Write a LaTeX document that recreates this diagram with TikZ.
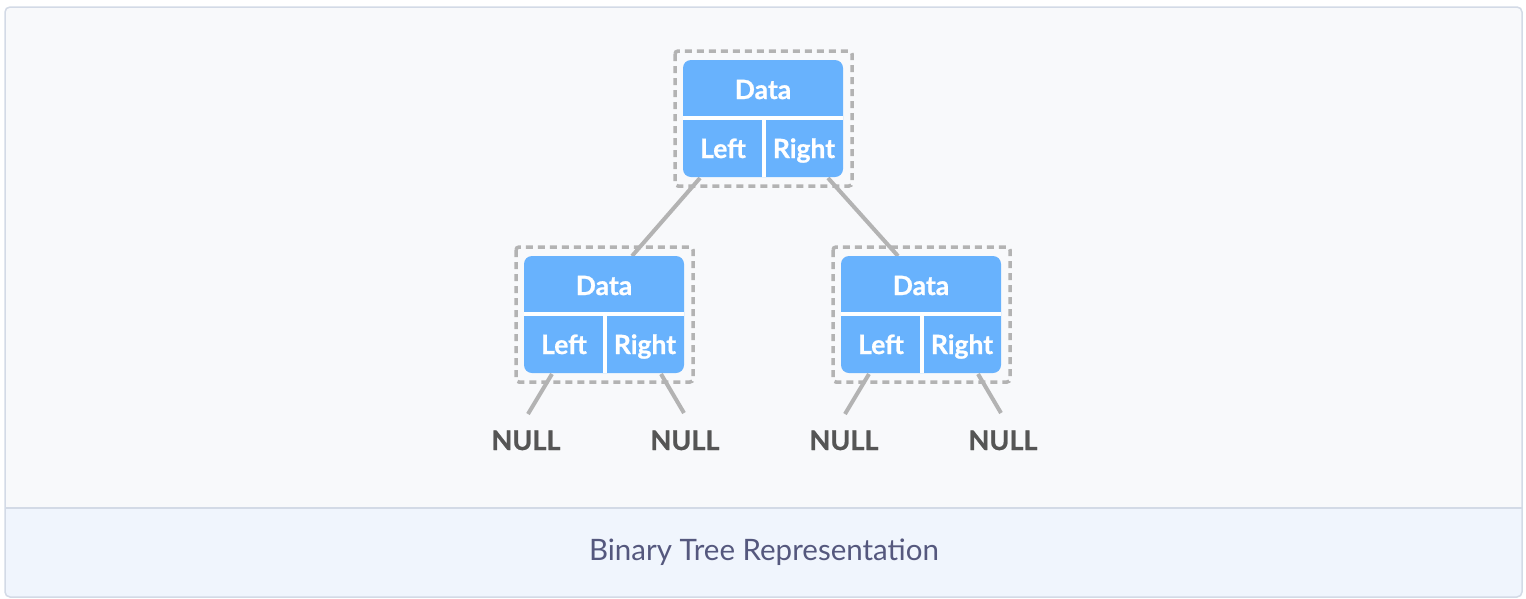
\documentclass[tikz,border=0pt]{standalone}
\usepackage{fontspec}
\setmainfont{Lato}
\newfontfamily\heavyfont{Lato}[BoldFeatures={FakeBold=0.8}]
\definecolor{nodeblue}{HTML}{68B2FD}
\definecolor{edgegray}{HTML}{B3B3B3}
\definecolor{nullgray}{HTML}{555555}
\definecolor{framecol}{HTML}{D3DAE6}
\definecolor{topfill}{HTML}{F8F9FB}
\definecolor{capfill}{HTML}{F0F5FD}
\definecolor{captext}{HTML}{55587E}
\tikzset{
  x=1pt, y=-1pt,
  blueboxstyle/.style={fill=nodeblue, rounded corners=8pt},
  divider/.style={white, line width=4pt},
  dashframe/.style={draw=edgegray, line width=3.5pt, dash pattern=on 7pt off 5pt, rounded corners=3pt},
  edge/.style={draw=edgegray, line width=4pt},
  celltext/.style={text=white, font=\fontsize{26.5}{30}\heavyfont\bfseries, inner sep=0pt, anchor=base},
  nulltext/.style={text=nullgray, font=\fontsize{27}{30}\heavyfont\bfseries, inner sep=0pt, anchor=base},
}
% \mytreenode{name}{center x}{top y}
\newcommand{\mytreenode}[3]{%
  \draw[dashframe] ({#2-88},{#3-9}) rectangle ({#2+89},{#3+126});
  \fill[blueboxstyle] ({#2-80},{#3}) rectangle ({#2+80},{#3+117});
  \draw[divider] ({#2-80},{#3+58}) -- ({#2+80},{#3+58});
  \draw[divider] ({#2+1},{#3+58}) -- ({#2+1},{#3+117});
  \node[celltext] (#1data) at ({#2},{#3+39}) {Data};
  \node[celltext] (#1left) at ({#2-40},{#3+98}) {Left};
  \node[celltext] (#1right) at ({#2+41},{#3+98}) {Right};
  \coordinate (#1top) at ({#2},{#3});
}
\begin{document}
\begin{tikzpicture}
\useasboundingbox (0,0) rectangle (1526,598);
% frame
\fill[topfill, rounded corners=5pt] (5,7) rectangle (1522,597);
\fill[capfill, rounded corners=5pt] (5,508) rectangle (1522,597);
\fill[capfill] (5,508) rectangle (1522,520);
\draw[framecol, line width=1.5pt] (5,508) -- (1522,508);
\draw[framecol, line width=1.5pt, rounded corners=5pt] (5,7) rectangle (1522,597);
\node[text=captext, font=\fontsize{29.5}{32}\selectfont, inner sep=0pt] (caption) at (764,552) {Binary Tree Representation};
% edges (drawn first, under boxes)
\coordinate (e1a) at (700,178);
\coordinate (e1b) at (632,256);
\coordinate (e2a) at (828,178);
\coordinate (e2b) at (898,256);
\draw[edge] (e1a) -- (e1b);
\draw[edge] (e2a) -- (e2b);
% nodes
\mytreenode{root}{763}{60}
\mytreenode{lc}{604}{256}
\mytreenode{rc}{921}{256}
% NULL labels
\node[nulltext] (n1) at (526,450) {NULL};
\node[nulltext] (n2) at (685,450) {NULL};
\node[nulltext] (n3) at (844,450) {NULL};
\node[nulltext] (n4) at (1003,450) {NULL};
\coordinate (n1t) at (528,414);
\coordinate (n2t) at (684,413);
\coordinate (n3t) at (845,414);
\coordinate (n4t) at (1001,413);
\draw[edge] (552,374) -- (n1t);
\draw[edge] (661,374) -- (n2t);
\draw[edge] (869,374) -- (n3t);
\draw[edge] (978,374) -- (n4t);
\end{tikzpicture}
\end{document}
